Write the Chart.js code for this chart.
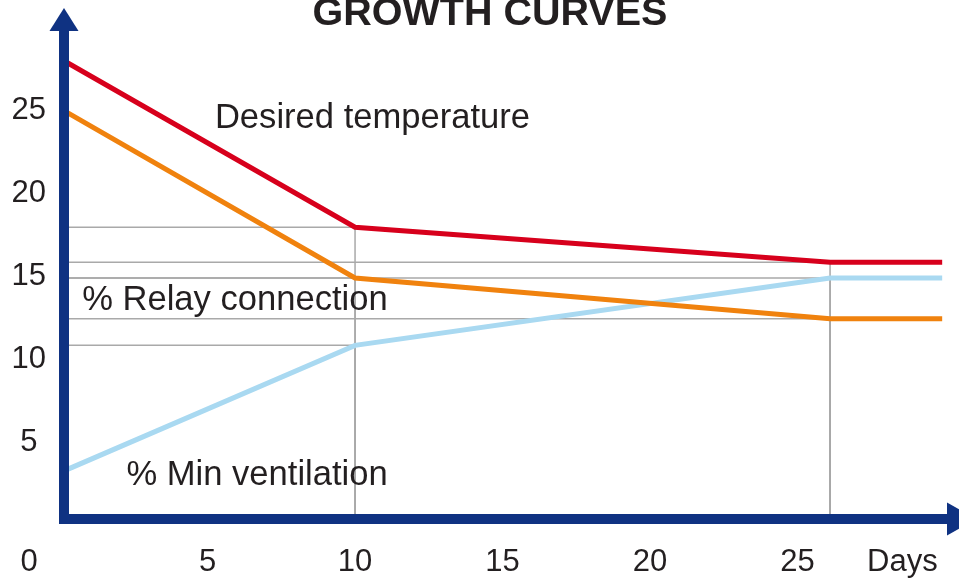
<!DOCTYPE html>
<html>
<head>
<meta charset="utf-8">
<script src="https://cdn.jsdelivr.net/npm/chart.js@4.4.0/dist/chart.umd.min.js"></script>
<style>
  html, body { margin: 0; padding: 0; background: #fff; }
  #growth { display: block; }
</style>
</head>
<body>
<canvas id="growth" width="959" height="578"></canvas>
<script>
// values
const days = [0, 10, 26.1, 29.9];
const desiredTemp = [28.1, 17.95, 15.85, 15.85];
const relayConnection = [25.1, 14.9, 12.45, 12.45];
const minVentilation = [3.2, 10.85, 14.9, 14.9];

const yTicks = [5, 10, 15, 20, 25];
const xTicks = [5, 10, 15, 20, 25];
const xAxisName = 'Days';
const xAxisNameAt = 28.55;

const labels = [
  { text: 'Desired temperature', day: 5.25, value: 23.9 },
  { text: '% Relay connection', day: 0.75, value: 12.98 },
  { text: '% Min ventilation', day: 2.25, value: 2.45 }
];

const FONT = '"Liberation Sans", Arial, sans-serif';
const TXT = '#231f20';
const NAVY = '#0f3282';
const GRID = '#a9a9a9';
const TICK_SIZE = 31;
const X_PAD = 18;
const AX = 64, AY = 519;

function series(vals) {
  return vals.map((v, i) => ({ x: days[i], y: v }));
}

// thin guide lines from each break point back to the axes
const guides = {
  id: 'guides',
  beforeDatasetsDraw(chart) {
    const { ctx, scales: { x, y } } = chart;
    ctx.save();
    ctx.strokeStyle = GRID;
    ctx.lineWidth = 1.5;
    chart.data.datasets.forEach(ds => {
      ds.data.slice(1, 3).forEach(p => {
        const px = x.getPixelForValue(p.x), py = y.getPixelForValue(p.y);
        ctx.beginPath();
        ctx.moveTo(AX, py); ctx.lineTo(px, py);
        ctx.moveTo(px, py); ctx.lineTo(px, AY);
        ctx.stroke();
      });
    });
    ctx.restore();
  }
};

// navy arrow axes, title and the in-chart labels
const decor = {
  id: 'decor',
  afterDatasetsDraw(chart) {
    const { ctx, scales: { x, y } } = chart;
    ctx.save();
    ctx.fillStyle = NAVY;
    ctx.fillRect(AX - 5, 31, 10, AY + 5 - 31);
    ctx.fillRect(AX - 5, AY - 5, 947 - (AX - 5), 10);
    ctx.beginPath();
    ctx.moveTo(AX - 14.5, 31); ctx.lineTo(AX + 14.5, 31); ctx.lineTo(AX, 8);
    ctx.closePath(); ctx.fill();
    ctx.beginPath();
    ctx.moveTo(947, AY - 16.5); ctx.lineTo(947, AY + 16.5); ctx.lineTo(976, AY);
    ctx.closePath(); ctx.fill();

    ctx.fillStyle = TXT;
    ctx.font = 'bold 39.5px ' + FONT;
    ctx.textAlign = 'center';
    ctx.textBaseline = 'alphabetic';
    ctx.fillText('GROWTH CURVES', 490, 25);

    ctx.font = '34.6px ' + FONT;
    ctx.textAlign = 'left';
    labels.forEach(l => {
      ctx.fillText(l.text, x.getPixelForValue(l.day), y.getPixelForValue(l.value));
    });

    // origin label
    ctx.font = TICK_SIZE + 'px ' + FONT;
    ctx.textAlign = 'center';
    ctx.textBaseline = 'middle';
    ctx.fillText('0', 29, x.top + X_PAD + TICK_SIZE * 0.6);
    ctx.restore();
  }
};

new Chart(document.getElementById('growth'), {
  type: 'line',
  data: {
    datasets: [
      { data: series(desiredTemp), borderColor: '#d7001c' },
      { data: series(relayConnection), borderColor: '#f0820e' },
      { data: series(minVentilation), borderColor: '#a9d9f1' }
    ]
  },
  options: {
    responsive: false,
    animation: false,
    devicePixelRatio: 1,
    layout: { padding: { top: 10.27, left: 0, right: 0, bottom: 0 } },
    elements: {
      line: { borderWidth: 5, tension: 0, fill: false },
      point: { radius: 0 }
    },
    plugins: { legend: { display: false }, tooltip: { enabled: false } },
    scales: {
      x: {
        type: 'linear', position: 'bottom', min: 0, max: 30.47,
        grid: { display: false, drawTicks: false }, border: { display: false },
        afterBuildTicks: s => { s.ticks = xTicks.concat([xAxisNameAt]).map(v => ({ value: v })); },
        afterFit: s => { s.height = 52.2; s.paddingLeft = 0; s.paddingRight = 0; },
        ticks: {
          autoSkip: false, maxRotation: 0, padding: X_PAD, color: TXT,
          font: { family: FONT, size: TICK_SIZE },
          callback: v => v === xAxisNameAt ? xAxisName : String(v)
        }
      },
      y: {
        type: 'linear', position: 'left', min: 0, max: 31,
        grid: { display: false, drawTicks: false }, border: { display: false },
        afterBuildTicks: s => { s.ticks = yTicks.map(v => ({ value: v })); },
        afterFit: s => { s.width = 60; s.paddingTop = 0; s.paddingBottom = 0; },
        ticks: {
          crossAlign: 'center', padding: 14, color: TXT,
          font: { family: FONT, size: TICK_SIZE }
        }
      }
    }
  },
  plugins: [guides, decor]
});
</script>
</body>
</html>
